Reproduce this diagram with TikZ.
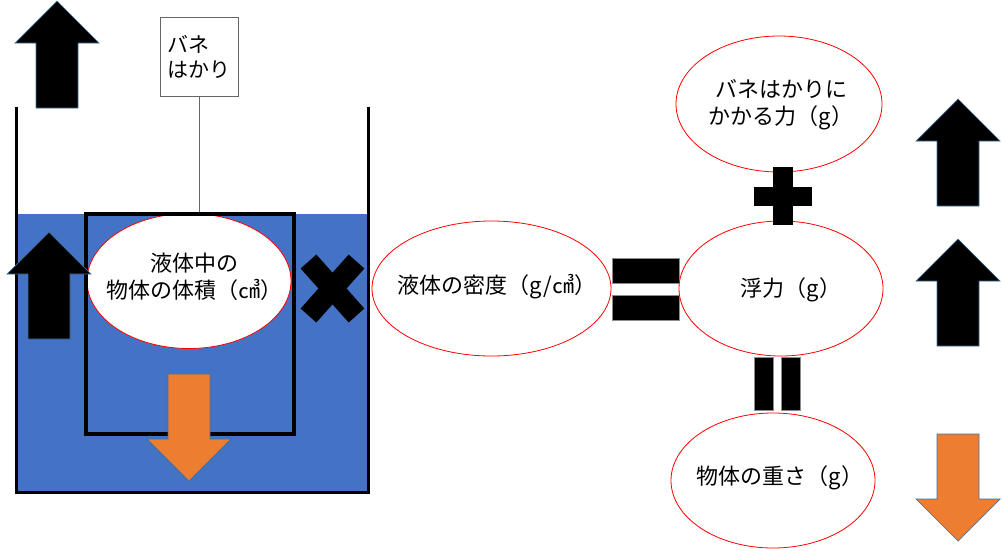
\documentclass[tikz,border=0pt]{standalone}
\usepackage{fontspec}
\setmainfont{Noto Sans CJK JP}

\definecolor{water}{HTML}{4472C4}
\definecolor{weight}{HTML}{ED7D31}
\definecolor{arrowedge}{HTML}{41719C}

\tikzset{
    bubble/.style = {draw=red, fill=white, line width=0.8pt},
    bubbletext/.style = {align=center, inner sep=0pt},
    springbox/.style = {draw=black!60, fill=white, minimum width=78pt, minimum height=79pt, align=left, inner sep=0pt},
    opbar/.style = {fill=black, draw=black!45, line width=0.6pt},
    forceup/.style = {fill=black, draw=arrowedge, line width=0.7pt},
    forcedown/.style = {fill=weight, draw=arrowedge, line width=0.7pt},
    uparrow/.pic = {\filldraw[pic actions] (0,0) -- (42,42) -- (21,42) -- (21,107) -- (-21,107) -- (-21,42) -- (-42,42) -- cycle;},
    downarrow/.pic = {\filldraw[pic actions] (-21,0) -- (21,0) -- (21,65) -- (42,65) -- (0,107) -- (-42,65) -- (-21,65) -- cycle;}
}

\begin{document}
\begin{tikzpicture}[x = 1pt, y = -1pt, font = \fontsize{22pt}{27pt}\selectfont]
    \useasboundingbox (0, 0) rectangle (1002, 550);

    % vessel with liquid
    \fill[water] (16, 214) rectangle (368, 492);
    \draw[line width = 3pt] (16, 107) -- (16, 492) -- (368, 492) -- (368, 107);

    % spring scale and object
    \node[springbox, font = \fontsize{21pt}{25pt}\selectfont] (spring) at (199, 57) {バネ\\はかり};
    \coordinate (hook) at (199, 214);
    \draw[black!60, line width = 0.8pt] (spring.south) -- (hook);
    \coordinate (volume) at (189, 281);
    \draw[bubble] (volume) ellipse [x radius = 102, y radius = 67.5];
    \node[bubbletext] (volumetext) at (194, 277) {液体中の\\物体の体積（㎤）};
    \draw[line width = 4.3pt] (86, 214) rectangle (294, 434);

    % forces in the vessel
    \pic[forceup] at (57, 1) {uparrow};
    \pic[forceup] at (49, 232) {uparrow};
    \pic[forcedown] at (189, 374) {downarrow};

    % times
    \coordinate (times) at (332.5, 288.5);
    \draw[line width = 21pt] (times) ++(-24, -27) -- ++(48, 54);
    \draw[line width = 21pt] (times) ++(24, -27) -- ++(-48, 54);

    \coordinate (density) at (491.5, 288.5);
    \draw[bubble] (density) ellipse [x radius = 119.5, y radius = 67.5];
    \node[bubbletext] (densitytext) at (497, 287) {液体の密度（g/㎤）};

    % equals
    \draw[opbar] (612, 258) rectangle (679, 283);
    \draw[opbar] (612, 295) rectangle (679, 320);

    \coordinate (scale) at (779, 104);
    \draw[bubble] (scale) ellipse [x radius = 103, y radius = 68];
    \node[bubbletext] (scaletext) at (781, 105) {バネはかりに\\かかる力（g）};
    \coordinate (buoyancy) at (781, 288.5);
    \draw[bubble] (buoyancy) ellipse [x radius = 102, y radius = 67.5];
    \node[bubbletext] (buoyancytext) at (791, 290) {浮力（g）};
    \coordinate (mass) at (773, 480.5);
    \draw[bubble] (mass) ellipse [x radius = 102, y radius = 67.5];
    \node[bubbletext] (masstext) at (780, 478) {物体の重さ（g）};

    % plus
    \fill (773, 167) rectangle (793, 225);
    \fill (754, 187) rectangle (812, 206);

    % equals, turned
    \draw[opbar] (754, 357) rectangle (773, 410);
    \draw[opbar] (781, 357) rectangle (800, 410);

    % forces on the right
    \pic[forceup] at (958, 99) {uparrow};
    \pic[forceup] at (958, 239) {uparrow};
    \pic[forcedown] at (958, 434) {downarrow};
\end{tikzpicture}
\end{document}
